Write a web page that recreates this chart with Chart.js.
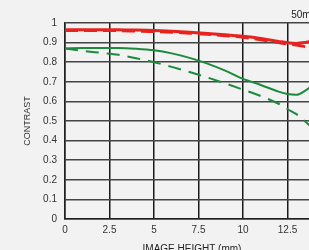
<!DOCTYPE html>
<html>
<head>
<meta charset="utf-8">
<script src="https://cdn.jsdelivr.net/npm/chart.js@4.4.1/dist/chart.umd.min.js"></script>
<style>
  html, body { margin: 0; padding: 0; background: #f1f2f1; overflow: hidden; }
  #wrap { width: 309px; height: 250px; overflow: hidden; }
  canvas { display: block; }
</style>
</head>
<body>
<div id="wrap"><canvas id="myChart" width="319" height="256"></canvas></div>
<script>
// Datos
const alturas = [0, 1, 2, 3, 4, 5, 6, 7, 8, 9, 10, 11, 12, 12.5, 13, 13.5, 14];
const rojoSolido = [0.965, 0.965, 0.966, 0.965, 0.964, 0.962, 0.958, 0.953, 0.947, 0.940, 0.932, 0.921, 0.906, 0.899, 0.896, 0.901, 0.910];
const rojoDiscontinuo = [0.962, 0.962, 0.962, 0.961, 0.959, 0.957, 0.953, 0.948, 0.942, 0.935, 0.927, 0.915, 0.900, 0.893, 0.888, 0.879, null];
const verdeSolido = [0.870, 0.872, 0.873, 0.873, 0.869, 0.861, 0.845, 0.822, 0.793, 0.757, 0.715, 0.684, 0.650, 0.638, 0.634, 0.655, 0.690];
const verdeDiscontinuo = [0.870, 0.858, 0.848, 0.838, 0.820, 0.800, 0.776, 0.750, 0.722, 0.692, 0.660, 0.627, 0.588, 0.560, 0.535, 0.497, 0.455];
const ticksX = [0, 2.5, 5, 7.5, 10, 12.5];
const ticksY = [0, 0.1, 0.2, 0.3, 0.4, 0.5, 0.6, 0.7, 0.8, 0.9, 1];

const ROJO = '#e8231f';
const VERDE = '#1b8a3c';

// Convierte una serie en puntos {x, y}
function puntos(valores) {
  return alturas.map((h, i) => ({ x: h, y: valores[i] }));
}

function serie(valores, color, ancho, guiones) {
  return {
    data: puntos(valores),
    borderColor: color,
    borderWidth: ancho,
    borderDash: guiones,
    pointRadius: 0,
    fill: false,
    tension: 0.4,
    cubicInterpolationMode: 'monotone',
    spanGaps: false
  };
}

const fuente = { family: '"Liberation Sans", Arial, sans-serif', size: 10, weight: 'normal' };

new Chart(document.getElementById('myChart'), {
  type: 'line',
  data: {
    datasets: [
      serie(verdeDiscontinuo, VERDE, 2, [13, 8]),
      serie(verdeSolido, VERDE, 2, []),
      serie(rojoDiscontinuo, ROJO, 3, [13, 6]),
      serie(rojoSolido, ROJO, 3, [])
    ]
  },
  options: {
    responsive: false,
    devicePixelRatio: 1,
    animation: false,
    layout: { padding: 0 },
    plugins: {
      legend: { display: false },
      tooltip: { enabled: false },
      title: {
        display: true,
        text: '50mm',
        align: 'end',
        color: '#222',
        font: fuente,
        padding: { top: 9, bottom: 2 }
      }
    },
    scales: {
      x: {
        type: 'linear',
        min: 0,
        max: 14.27,
        afterBuildTicks: (scale) => { scale.ticks = ticksX.map(v => ({ value: v })); },
        afterFit: (scale) => { scale.height = 37; },
        ticks: { color: '#333', font: fuente, padding: 5, maxRotation: 0, callback: (v) => String(v) },
        grid: { color: '#1a1a1a', lineWidth: 1.5, drawTicks: false },
        border: { color: '#222', width: 1.5 },
        title: {
          display: true,
          text: 'IMAGE HEIGHT (mm)',
          color: '#222',
          font: fuente,
          padding: { top: 0, bottom: 1 }
        }
      },
      y: {
        min: 0,
        max: 1,
        afterBuildTicks: (scale) => { scale.ticks = ticksY.map(v => ({ value: v })); },
        afterFit: (scale) => { scale.width = 65; },
        ticks: { color: '#333', font: fuente, padding: 8, callback: (v) => String(v) },
        grid: { color: '#444', lineWidth: 1.5, drawTicks: false },
        border: { color: '#222', width: 1.5 },
        title: {
          display: true,
          text: 'CONTRAST',
          color: '#333',
          font: { family: fuente.family, size: 9, weight: 'normal' },
          padding: { top: 22, bottom: 0 }
        }
      }
    }
  }
});
</script>
</body>
</html>
